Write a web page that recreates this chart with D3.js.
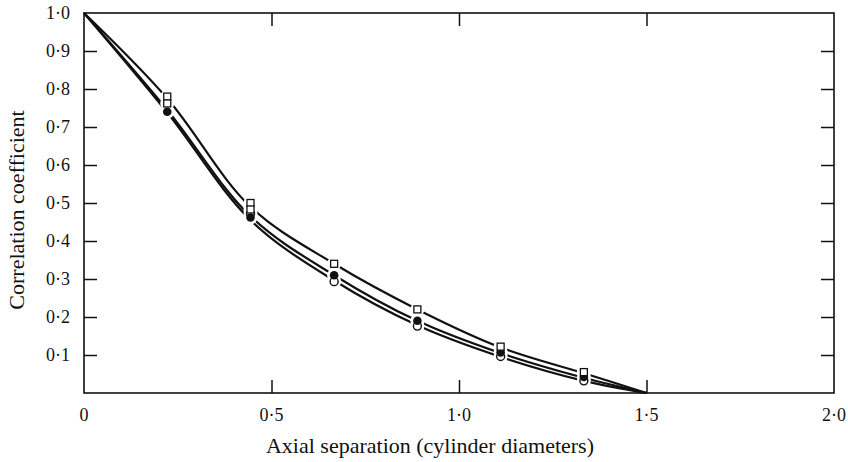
<!DOCTYPE html>
<html><head><meta charset="utf-8">
<script src="https://cdn.jsdelivr.net/npm/d3@7"></script>
<style>body{margin:0;background:#fff}text{font-family:"Liberation Serif","DejaVu Serif",serif;fill:#111}</style>
</head><body><svg id="c" width="848" height="462"></svg>
<script>
// Data
const xTicks = [0, 0.5, 1.0, 1.5, 2.0];
const xTickLabels = ["0", "0·5", "1·0", "1·5", "2·0"];
const yTicks = [0.1,0.2,0.3,0.4,0.5,0.6,0.7,0.8,0.9,1.0];
const yTickLabels = ["0·1","0·2","0·3","0·4","0·5","0·6","0·7","0·8","0·9","1·0"];
const curveX = [0, 0.222, 0.444, 0.667, 0.889, 1.111, 1.333, 1.5];
const curveUpper = [1.0, 0.775, 0.49, 0.34, 0.22, 0.12, 0.052, 0];
const curveMiddle = [1.0, 0.745, 0.465, 0.31, 0.19, 0.105, 0.04, 0];
const curveLower = [1.0, 0.738, 0.455, 0.296, 0.178, 0.095, 0.032, 0];
const squareX = [0.222, 0.222, 0.444, 0.444, 0.667, 0.889, 1.111, 1.333];
const squareY = [0.78, 0.762, 0.50, 0.483, 0.34, 0.22, 0.122, 0.055];
const filledX = [0.222, 0.444, 0.667, 0.889, 1.111, 1.333];
const filledY = [0.74, 0.462, 0.31, 0.19, 0.107, 0.042];
const openX = [0.444, 0.667, 0.889, 1.111, 1.333];
const openY = [0.472, 0.293, 0.176, 0.096, 0.032];

const svg = d3.select("#c");
const L=84, R=834, T=13, B=393;
const x = d3.scaleLinear().domain([0,2]).range([L,R]);
const y = d3.scaleLinear().domain([0,1]).range([B,T]);

// frame
svg.append("rect").attr("x",L).attr("y",T).attr("width",R-L).attr("height",B-T)
  .attr("fill","none").attr("stroke","#111").attr("stroke-width",1.6);

// axes with inner ticks
svg.append("g").attr("transform",`translate(${L},0)`)
  .call(d3.axisRight(y).tickValues(yTicks.slice(0,9)).tickSize(13).tickFormat(""))
  .call(g=>{g.select(".domain").remove(); g.selectAll("line").attr("stroke","#111").attr("stroke-width",1.5);});
svg.append("g").attr("transform",`translate(${R},0)`)
  .call(d3.axisLeft(y).tickValues(yTicks.slice(0,9)).tickSize(13).tickFormat(""))
  .call(g=>{g.select(".domain").remove(); g.selectAll("line").attr("stroke","#111").attr("stroke-width",1.5);});
svg.append("g").attr("transform",`translate(0,${B})`)
  .call(d3.axisTop(x).tickValues([0.5,1.0,1.5]).tickSize(13).tickFormat(""))
  .call(g=>{g.select(".domain").remove(); g.selectAll("line").attr("stroke","#111").attr("stroke-width",1.5);});
svg.append("g").attr("transform",`translate(0,${T})`)
  .call(d3.axisBottom(x).tickValues([0.5,1.0,1.5]).tickSize(13).tickFormat(""))
  .call(g=>{g.select(".domain").remove(); g.selectAll("line").attr("stroke","#111").attr("stroke-width",1.5);});

// tick labels
svg.append("g").selectAll("text").data(yTicks).join("text")
  .attr("x",70).attr("y",d=>y(d)+6).attr("text-anchor","end")
  .attr("font-size",18).text((d,i)=>yTickLabels[i]);
svg.append("g").selectAll("text").data(xTicks).join("text")
  .attr("x",d=>x(d)).attr("y",421).attr("text-anchor","middle")
  .attr("font-size",18).text((d,i)=>xTickLabels[i]);

// titles
svg.append("text").attr("transform","translate(24,210) rotate(-90)").attr("text-anchor","middle")
  .attr("font-size",22).text("Correlation coefficient");
svg.append("text").attr("x",430).attr("y",453).attr("text-anchor","middle")
  .attr("font-size",22).text("Axial separation (cylinder diameters)");

// curves
const line = d3.line().x(d=>x(d[0])).y(d=>y(d[1])).curve(d3.curveCatmullRom.alpha(0.5));
[curveLower, curveMiddle, curveUpper].forEach(c=>{
  svg.append("path").datum(curveX.map((v,i)=>[v,c[i]])).attr("d",line)
    .attr("fill","none").attr("stroke","#111").attr("stroke-width",2.2);
});

// white gaps around markers
const allX = squareX.concat(filledX, openX), allY = squareY.concat(filledY, openY);
svg.append("g").selectAll("circle").data(allX).join("circle")
  .attr("cx",d=>x(d)).attr("cy",(d,i)=>y(allY[i])).attr("r",7).attr("fill","#fff");

// markers
svg.append("g").selectAll("circle").data(openX).join("circle")
  .attr("cx",d=>x(d)).attr("cy",(d,i)=>y(openY[i])).attr("r",4)
  .attr("fill","#fff").attr("stroke","#111").attr("stroke-width",1.4);
svg.append("g").selectAll("circle").data(filledX).join("circle")
  .attr("cx",d=>x(d)).attr("cy",(d,i)=>y(filledY[i])).attr("r",4.3)
  .attr("fill","#111");
svg.append("g").selectAll("rect").data(squareX).join("rect")
  .attr("x",d=>x(d)-3.5).attr("y",(d,i)=>y(squareY[i])-3.5).attr("width",7).attr("height",7)
  .attr("fill","#fff").attr("stroke","#111").attr("stroke-width",1.3);
</script></body></html>
